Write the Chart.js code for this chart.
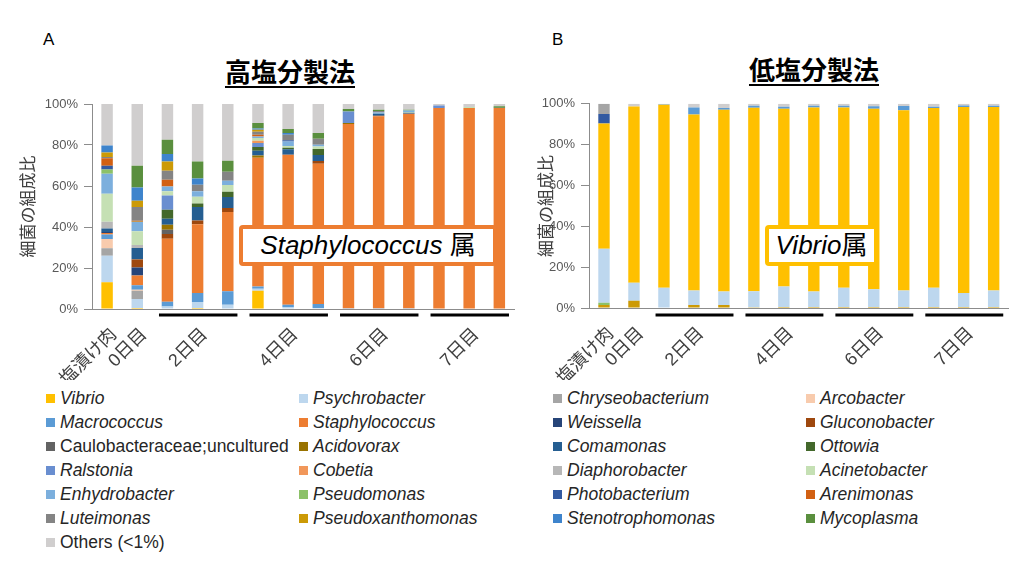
<!DOCTYPE html>
<html>
<head>
<meta charset="utf-8">
<script src="https://cdn.jsdelivr.net/npm/chart.js@4"></script>
<style>
  body { margin: 0; width: 1024px; height: 572px; position: relative; background: #fff; overflow: hidden;
         font-family: 'Liberation Sans', 'Noto Sans CJK JP', sans-serif; }
  canvas { position: absolute; }
  .letter { position: absolute; font-size: 17px; color: #000; }
  .title { position: absolute; font-size: 26px; font-weight: bold; line-height: 30px; color: #000;
           transform: translateX(-50%); white-space: nowrap;
           text-decoration: underline; text-decoration-thickness: 2px; text-underline-offset: 4px; }
  .note { position: absolute; background: #fff; border: 4px solid; border-radius: 4px; box-sizing: border-box;
          font-size: 26px; line-height: 32px; text-align: center; white-space: nowrap; color: #000; }
  .leg { position: absolute; font-size: 17.5px; line-height: 20px; color: #262626; white-space: nowrap; }
  .leg i.sw { display: inline-block; width: 9px; height: 9px; margin-right: 5px; vertical-align: 1px; }
</style>
</head>
<body>
<div class="letter" style="left:43px;top:30px">A</div>
<div class="letter" style="left:552px;top:30px">B</div>
<div class="title" style="left:290px;top:58px">高塩分製法</div>
<div class="title" style="left:814px;top:56px">低塩分製法</div>

<canvas id="chartA" width="530" height="290" style="left:0;top:90px"></canvas>
<canvas id="chartB" width="524" height="290" style="left:500px;top:90px"></canvas>

<div class="note" style="left:239px;top:225px;width:258px;height:41px;border-color:#ED7D31"><i>Staphylococcus</i> 属</div>
<div class="note" style="left:765px;top:225px;width:113px;height:41px;border-color:#FFC000"><i>Vibrio</i>属</div>

<div id="legend"></div>

<script>
const categories = ['塩漬け肉', '0日目', '', '2日目', '', '', '4日目', '', '', '6日目', '', '', '7日目', ''];
const dayGroups = [[2, 4], [5, 7], [8, 10], [11, 13]];

// 高塩分製法 (%), one value per bar
const hiVibrio           = [13.0, 0.5, 0, 0.5, 0, 8.9, 0.3, 0, 0, 0, 0, 0, 0, 0];
const hiPsychrobacter    = [13.0, 4.4, 1.2, 2.9, 2.1, 1.0, 0.7, 0.5, 0, 0, 0, 0, 0, 0];
const hiChryseobacterium = [3.6, 4.0, 0, 0, 0, 0, 0, 0, 0, 0, 0, 0, 0, 0];
const hiArcobacter       = [4.5, 0.5, 0, 0, 0, 0, 0, 0, 0, 0, 0, 0, 0, 0];
const hiMacrococcus      = [2.3, 2.2, 2.3, 4.4, 6.5, 1.1, 1.1, 2.0, 0.4, 0.4, 0.4, 0, 0, 0];
const hiStaphylococcus   = [0.7, 4.8, 30.8, 33.5, 38.7, 62.8, 73.2, 68.4, 89.8, 93.6, 94.9, 98.0, 98.0, 98.0];
const hiWeissella        = [0.5, 3.9, 0, 0, 0, 0, 0, 0, 0, 0, 0, 0, 0, 0];
const hiGluconobacter    = [0, 3.8, 2.3, 1.9, 2.0, 0, 0, 1.3, 0, 0.3, 0, 0, 0, 0];
const hiCaulobacteraceae = [0, 0.3, 2.1, 0, 0, 0, 0, 0, 0, 0, 0, 0, 0, 0];
const hiAcidovorax       = [0, 0, 2.4, 0, 0, 1.1, 0, 0, 0.5, 0, 0, 0, 0, 0];
const hiComamonas        = [1.7, 5.4, 2.9, 6.5, 5.3, 2.3, 2.6, 2.9, 0, 1.0, 0.4, 0, 0, 0];
const hiOttowia          = [0, 0, 4.4, 1.8, 2.6, 1.8, 0.8, 2.9, 0, 0, 0, 0, 0, 0.3];
const hiRalstonia        = [0, 0, 7.0, 0, 0, 2.0, 0, 0, 5.7, 0, 0, 1.3, 0, 0];
const hiCobetia          = [0, 0, 0, 0, 0, 1.1, 0, 0, 0, 0, 0, 0, 0, 0];
const hiDiaphorobacter   = [3.3, 1.4, 0, 0, 0, 0, 0, 0, 0, 0, 0, 0, 0, 0];
const hiAcinetobacter    = [13.6, 6.7, 2.0, 3.3, 3.3, 1.3, 0.8, 1.3, 0, 0, 0.4, 0, 0.5, 0];
const hiEnhydrobacter    = [9.8, 4.5, 2.4, 2.6, 2.1, 0.8, 2.2, 0.8, 0, 0.6, 0.7, 0, 0, 0];
const hiPseudomonas      = [2.0, 0.2, 0, 0, 0, 0, 0, 0, 0, 0, 0, 0, 0, 0];
const hiPhotobacterium   = [1.9, 0, 0, 0, 0, 0, 0.6, 0, 0, 0, 0, 0, 0, 0];
const hiArenimonas       = [3.6, 0.5, 3.3, 0, 0, 0.8, 0, 0, 0, 0, 0, 0, 0, 0];
const hiLuteimonas       = [0.6, 6.7, 4.4, 3.2, 4.4, 1.5, 2.7, 3.0, 0, 0.7, 0, 0, 0, 0];
const hiPseudoxanthomonas= [2.3, 3.0, 4.5, 0, 0, 1.0, 0, 0, 0, 0, 0, 0, 0, 0];
const hiStenotrophomonas = [3.3, 6.5, 3.6, 3.0, 0, 0.5, 0.8, 0, 0, 0, 0, 0, 0, 0];
const hiMycoplasma       = [0, 10.6, 7.0, 8.3, 5.3, 2.7, 2.0, 2.8, 1.2, 0.6, 0.4, 0, 0, 0.6];
const hiOthers           = [20.3, 30.1, 17.4, 28.1, 27.7, 9.3, 12.2, 14.1, 2.4, 2.8, 2.8, 0.7, 1.5, 1.1];

// 低塩分製法 (%)
const loPseudoxanthomonas= [1.5, 3.5, 0.3, 1.5, 1.5, 0.4, 0.5, 0.5, 0.5, 0.5, 0.5, 0.5, 0.5, 0.5];
const loPseudomonas      = [1.1, 0, 0, 0, 0, 0, 0, 0, 0, 0, 0, 0, 0, 0];
const loPsychrobacter    = [26.4, 8.9, 9.6, 7.1, 6.6, 7.8, 10.0, 7.6, 9.4, 8.7, 8.1, 9.4, 6.8, 8.1];
const loVibrio           = [61.3, 86.3, 89.6, 86.1, 89.0, 89.9, 87.1, 90.1, 88.3, 88.4, 88.3, 88.0, 91.1, 89.8];
const loPhotobacterium   = [4.7, 0, 0, 0, 0, 0, 0, 0, 0, 0, 0, 0, 0, 0];
const loMacrococcus      = [0, 0, 0.3, 3.5, 0.8, 0.9, 1.0, 0.8, 0.9, 1.2, 2.0, 0.7, 0.8, 0.6];
const loChryseobacterium = [5.0, 0, 0, 0, 0, 0, 0, 0, 0, 0, 0, 0, 0, 0];
const loOthers           = [0, 1.3, 0.2, 1.8, 2.1, 1.0, 1.4, 1.0, 0.9, 1.2, 1.1, 1.4, 0.8, 1.0];

const taxa = ['Vibrio', 'Psychrobacter', 'Chryseobacterium', 'Arcobacter', 'Macrococcus', 'Staphylococcus',
  'Weissella', 'Gluconobacter', 'Caulobacteraceae;uncultured', 'Acidovorax', 'Comamonas', 'Ottowia',
  'Ralstonia', 'Cobetia', 'Diaphorobacter', 'Acinetobacter', 'Enhydrobacter', 'Pseudomonas',
  'Photobacterium', 'Arenimonas', 'Luteimonas', 'Pseudoxanthomonas', 'Stenotrophomonas', 'Mycoplasma',
  'Others (<1%)'];
const colors = ['#FFC000', '#BDD7EE', '#A5A5A5', '#F8CBAD', '#5B9BD5', '#ED7D31',
  '#264478', '#9E480E', '#636363', '#997300', '#255E91', '#43682B',
  '#698ED0', '#F1975A', '#B7B7B7', '#C5E0B4', '#7CAFDD', '#8CC168',
  '#335AA1', '#D26012', '#848484', '#CC9A06', '#3E84CC', '#5A8F3E',
  '#D0CECE'];
const plain = ['Caulobacteraceae;uncultured', 'Others (<1%)'];

const hiValues = [hiVibrio, hiPsychrobacter, hiChryseobacterium, hiArcobacter, hiMacrococcus, hiStaphylococcus,
  hiWeissella, hiGluconobacter, hiCaulobacteraceae, hiAcidovorax, hiComamonas, hiOttowia,
  hiRalstonia, hiCobetia, hiDiaphorobacter, hiAcinetobacter, hiEnhydrobacter, hiPseudomonas,
  hiPhotobacterium, hiArenimonas, hiLuteimonas, hiPseudoxanthomonas, hiStenotrophomonas, hiMycoplasma,
  hiOthers];
const loSeries = [
  ['Pseudoxanthomonas', loPseudoxanthomonas], ['Pseudomonas', loPseudomonas], ['Psychrobacter', loPsychrobacter],
  ['Vibrio', loVibrio], ['Photobacterium', loPhotobacterium], ['Macrococcus', loMacrococcus],
  ['Chryseobacterium', loChryseobacterium], ['Others (<1%)', loOthers]
];

const FONT = "'Liberation Sans', 'Noto Sans CJK JP', sans-serif";
const colorOf = name => colors[taxa.indexOf(name)];

const groupLines = {
  id: 'groupLines',
  afterDraw(chart, args, opts) {
    const x = chart.scales.x, ctx = chart.ctx;
    const w = x.getPixelForValue(1) - x.getPixelForValue(0);
    ctx.save();
    ctx.strokeStyle = '#000';
    ctx.lineWidth = 3;
    dayGroups.forEach(([a, b]) => {
      ctx.beginPath();
      ctx.moveTo(x.getPixelForValue(a) - w * 0.28, x.top + opts.dy);
      ctx.lineTo(x.getPixelForValue(b) + w * 0.32, x.top + opts.dy);
      ctx.stroke();
    });
    ctx.restore();
  }
};

function makeOptions(c) {
  return {
    responsive: false,
    animation: false,
    events: [],
    layout: { padding: { top: c.top, right: c.right, left: 0, bottom: 0 } },
    plugins: { legend: { display: false }, tooltip: { enabled: false }, groupLines: { dy: c.dy } },
    datasets: { bar: { barPercentage: 0.38, categoryPercentage: 1 } },
    scales: {
      x: {
        stacked: true,
        grid: { display: false, drawTicks: false },
        border: { color: '#8c8c8c' },
        ticks: { autoSkip: false, minRotation: 45, maxRotation: 45, padding: 15, labelOffset: 7,
                 color: '#404040', font: { size: 18, family: FONT } },
        afterFit: s => { s.height = c.xh; }
      },
      y: {
        stacked: true, min: 0, max: 100,
        ticks: { stepSize: 20, padding: 6, color: '#595959', font: { size: 13, family: FONT },
                 callback: v => v + '%' },
        grid: { drawOnChartArea: false, tickLength: 8, color: '#8c8c8c' },
        border: { color: '#8c8c8c' },
        title: { display: true, text: '細菌の組成比', color: '#404040', font: { size: 17, family: FONT },
                 padding: { top: c.tp, bottom: 0 } },
        afterFit: s => { s.width = c.yw; }
      }
    }
  };
}

new Chart(document.getElementById('chartA'), {
  type: 'bar',
  data: {
    labels: categories,
    datasets: taxa.map((name, i) => ({ label: name, data: hiValues[i], backgroundColor: colors[i] }))
  },
  options: makeOptions({ top: 14, right: 11, xh: 71, yw: 92, tp: 19, dy: 6 }),
  plugins: [groupLines]
});

new Chart(document.getElementById('chartB'), {
  type: 'bar',
  data: {
    labels: categories,
    datasets: loSeries.map(([name, vals]) => ({ label: name, data: vals, backgroundColor: colorOf(name) }))
  },
  options: makeOptions({ top: 12, right: 2, xh: 72, yw: 89, tp: 37, dy: 7 }),
  plugins: [groupLines]
});

// legend: 4 columns, filled row by row in series order
const legCols = [46, 299, 553, 806];
const legend = document.getElementById('legend');
taxa.forEach((name, i) => {
  const d = document.createElement('div');
  d.className = 'leg';
  d.style.left = legCols[i % 4] + 'px';
  d.style.top = (388 + 24 * Math.floor(i / 4)) + 'px';
  const label = plain.includes(name) ? name : '<i>' + name + '</i>';
  d.innerHTML = '<i class="sw" style="background:' + colors[i] + '"></i>' + label;
  legend.appendChild(d);
});
</script>
</body>
</html>
